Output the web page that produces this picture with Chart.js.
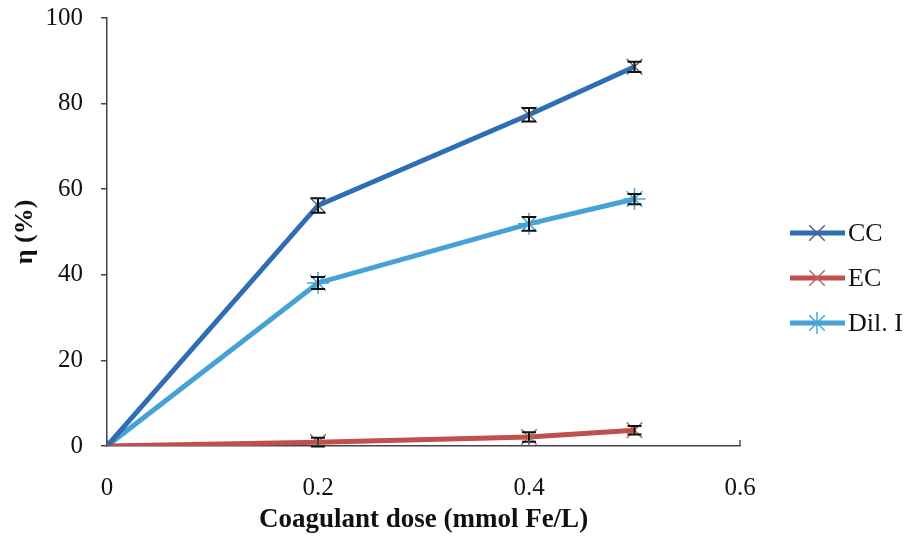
<!DOCTYPE html>
<html>
<head>
<meta charset="utf-8">
<script src="https://cdn.jsdelivr.net/npm/chart.js@4.4.1/dist/chart.umd.min.js"></script>
<style>
  html, body { margin: 0; padding: 0; background: #fff; }
  #wrap { width: 906px; height: 536px; }
</style>
</head>
<body>
<div id="wrap"><canvas id="c" width="906" height="536"></canvas></div>
<script>
const doses = [0, 0.2, 0.4, 0.5]
const ccValues = [0, 56.2, 77.4, 88.6]
const ecValues = [0, 0.9, 2.1, 3.7]
const dilValues = [0, 38.1, 51.9, 57.7]
const ccErr = [0, 1.7, 1.6, 1.2]
const ecErr = [0, 1.0, 1.1, 1.0]
const dilErr = [0, 1.4, 1.6, 1.2]
const xTicks = [0, 0.2, 0.4, 0.6]
const yTicks = [0, 20, 40, 60, 80, 100]

const serif = "'Liberation Serif', 'Times New Roman', serif"

const toPoints = vals => vals.map((v, i) => ({ x: doses[i], y: v }))

const series = [
  { label: 'CC', data: ccValues, err: ccErr, color: '#2f6db5', markColor: '#56627e', marker: 'crossRot' },
  { label: 'EC', data: ecValues, err: ecErr, color: '#c0504d', markColor: '#b86a5e', marker: 'crossRot' },
  { label: 'Dil. I', data: dilValues, err: dilErr, color: '#46a1d4', markColor: '#4aa6d6', marker: 'star' }
]

const drawMarker = (ctx, style, cx, cy, r) => {
  const d = r * Math.SQRT1_2
  ctx.beginPath()
  ctx.moveTo(cx - d, cy - d); ctx.lineTo(cx + d, cy + d)
  ctx.moveTo(cx - d, cy + d); ctx.lineTo(cx + d, cy - d)
  if (style === 'star') {
    ctx.moveTo(cx, cy - r); ctx.lineTo(cx, cy + r)
  }
  ctx.stroke()
}

// error bars, inward x ticks, y title and line+marker legend
const extras = {
  id: 'extras',
  afterDatasetsDraw(chart) {
    const { ctx, scales: { x, y } } = chart
    ctx.save()
    ctx.strokeStyle = '#111'
    ctx.lineWidth = 2
    series.forEach(s => {
      s.data.forEach((v, i) => {
        const e = s.err[i]
        if (!e) return
        const px = x.getPixelForValue(doses[i])
        const top = y.getPixelForValue(v + e)
        const bot = y.getPixelForValue(v - e)
        ctx.beginPath()
        ctx.moveTo(px, top); ctx.lineTo(px, bot)
        ctx.moveTo(px - 7, top); ctx.lineTo(px + 7, top)
        ctx.moveTo(px - 7, bot); ctx.lineTo(px + 7, bot)
        ctx.stroke()
      })
    })
    ctx.restore()
  },
  afterDraw(chart) {
    const { ctx, chartArea, scales: { x } } = chart
    ctx.save()
    ctx.strokeStyle = '#555'
    ctx.lineWidth = 1.5
    xTicks.forEach(t => {
      const px = x.getPixelForValue(t)
      ctx.beginPath()
      ctx.moveTo(px, chartArea.bottom)
      ctx.lineTo(px, chartArea.bottom - 6)
      ctx.stroke()
    })
    ctx.fillStyle = '#111'
    ctx.font = 'bold 26px ' + serif
    ctx.textAlign = 'center'
    ctx.textBaseline = 'middle'
    ctx.translate(25, 232)
    ctx.rotate(-Math.PI / 2)
    ctx.fillText('η (%)', 0, 0)
    ctx.restore()

    ctx.save()
    series.forEach((s, i) => {
      const yy = 233 + i * 45
      ctx.strokeStyle = s.color
      ctx.lineWidth = 5
      ctx.beginPath()
      ctx.moveTo(790, yy); ctx.lineTo(845, yy)
      ctx.stroke()
      ctx.strokeStyle = s.markColor
      ctx.lineWidth = 1.5
      drawMarker(ctx, s.marker, 817, yy, 11)
      ctx.fillStyle = '#111'
      ctx.font = '26px ' + serif
      ctx.textAlign = 'left'
      ctx.textBaseline = 'middle'
      ctx.fillText(s.label, 848, yy + 1)
    })
    ctx.restore()
  }
}

new Chart(document.getElementById('c'), {
  type: 'line',
  data: {
    datasets: series.map(s => ({
      label: s.label,
      data: toPoints(s.data),
      borderColor: s.color,
      backgroundColor: s.color,
      borderWidth: 5,
      pointStyle: s.marker,
      pointRadius: 11,
      pointBorderWidth: 1.5,
      pointBorderColor: s.markColor,
      pointHoverRadius: 11,
      tension: 0
    }))
  },
  options: {
    responsive: false,
    animation: false,
    events: [],
    layout: { padding: { top: 18, right: 166, left: 0, bottom: 0 } },
    plugins: { legend: { display: false }, tooltip: { enabled: false } },
    scales: {
      x: {
        type: 'linear',
        min: 0,
        max: 0.6,
        afterBuildTicks: axis => { axis.ticks = xTicks.map(v => ({ value: v })) },
        afterFit: axis => {
          axis.height = 90
          axis.paddingLeft = 0
          axis.paddingRight = 0
        },
        border: { color: '#444', width: 1.5 },
        grid: { display: false },
        ticks: {
          color: '#111',
          font: { family: serif, size: 25 },
          padding: 19
        },
        title: {
          display: true,
          text: 'Coagulant dose (mmol Fe/L)',
          color: '#111',
          font: { family: serif, size: 27, weight: 'bold' },
          padding: { top: 0, bottom: 0 }
        }
      },
      y: {
        min: 0,
        max: 100,
        afterBuildTicks: axis => { axis.ticks = yTicks.map(v => ({ value: v })) },
        afterFit: axis => {
          axis.width = 107
          axis.paddingTop = 0
          axis.paddingBottom = 0
        },
        border: { color: '#444', width: 1.5 },
        grid: { drawOnChartArea: false, drawTicks: true, tickLength: 6, color: '#444', lineWidth: 1.5 },
        ticks: {
          color: '#111',
          font: { family: serif, size: 25 },
          padding: 18
        }
      }
    }
  },
  plugins: [extras]
})
</script>
</body>
</html>
